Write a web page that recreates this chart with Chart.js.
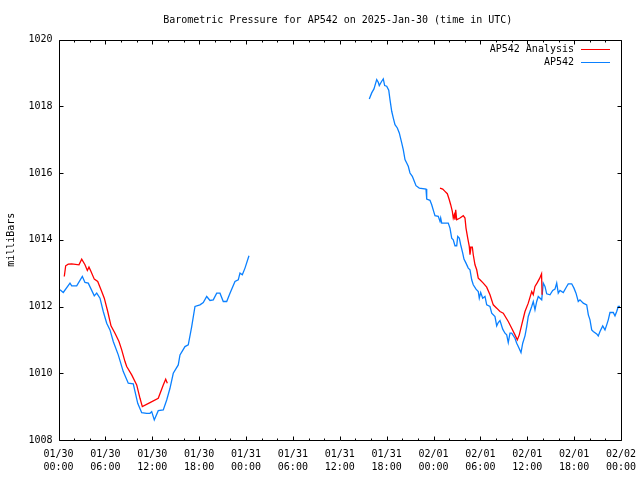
<!DOCTYPE html>
<html>
<head>
<meta charset="utf-8">
<script src="https://cdn.jsdelivr.net/npm/chart.js@4"></script>
<style>
html,body{margin:0;padding:0;background:#fff;}
#wrap{width:640px;height:480px;}
</style>
</head>
<body>
<div id="wrap"><canvas id="c" width="640" height="480"></canvas></div>
<script>
// ---- data (hours since 2025-01-30 00:00 UTC, millibars) ----
const titleText = "Barometric Pressure for AP542 on 2025-Jan-30 (time in UTC)";
const yAxisTitle = "milliBars";
const seriesNames = ["AP542 Analysis", "AP542"];
const xTickLabels = [
  ["01/30","00:00"],["01/30","06:00"],["01/30","12:00"],["01/30","18:00"],
  ["01/31","00:00"],["01/31","06:00"],["01/31","12:00"],["01/31","18:00"],
  ["02/01","00:00"],["02/01","06:00"],["02/01","12:00"],["02/01","18:00"],
  ["02/02","00:00"]
];
const yTickValues = [1008,1010,1012,1014,1016,1018,1020];

const obsHours = [
  0.19,0.61,1.47,1.69,2.33,3.05,3.39,3.81,4.58,4.89,5.31,5.73,6.17,6.59,7.01,7.65,8.29,8.93,9.57,10.14,
  10.65,11.29,11.71,11.93,12.26,12.77,13.41,13.85,14.27,14.69,15.33,15.55,16.19,16.61,17.05,17.47,18.11,
  18.53,18.97,19.39,19.81,20.25,20.67,21.09,21.53,21.95,22.59,23.01,23.23,23.53,23.87,24.38,
  32.0,
  39.78,40.09,40.38,40.73,40.93,41.06,41.37,41.57,41.75,42.01,42.27,42.43,42.65,42.85,43.07,43.37,43.62,
  43.93,44.13,44.35,44.57,44.77,44.99,45.29,45.54,45.76,46.18,47.04,47.13,47.55,47.77,48.06,48.19,48.61,
  48.83,48.92,49.05,49.89,50.11,50.33,50.53,50.75,50.97,51.10,51.30,51.48,51.74,51.90,52.16,52.45,52.67,
  52.89,53.09,53.44,53.73,53.86,54.04,54.30,54.59,54.81,55.23,55.45,55.87,56.09,56.29,56.51,56.86,57.15,
  57.37,57.57,57.79,58.01,58.43,58.65,58.85,59.20,59.42,59.71,59.93,60.13,60.35,60.57,60.77,60.99,61.21,
  61.41,61.85,62.05,62.27,62.49,62.91,63.26,63.55,63.77,63.97,64.19,64.61,65.05,65.25,65.69,65.98,66.24,
  66.53,66.75,67.17,67.61,67.82,68.03,68.25,68.45,68.89,69.09,69.31,69.66,69.95,70.17,70.37,70.59,71.01,
  71.23,71.45,71.65,71.87
];
const obsValues = [
  1012.5,1012.42,1012.7,1012.62,1012.62,1012.9,1012.72,1012.7,1012.32,1012.4,1012.25,1011.85,1011.5,1011.3,
  1010.95,1010.55,1010.05,1009.7,1009.68,1009.1,1008.82,1008.8,1008.8,1008.85,1008.6,1008.88,1008.9,1009.2,
  1009.55,1010.0,1010.25,1010.55,1010.8,1010.85,1011.4,1012.0,1012.05,1012.12,1012.3,1012.18,1012.2,1012.4,
  1012.4,1012.15,1012.15,1012.4,1012.75,1012.8,1013.0,1012.95,1013.15,1013.52,
  null,
  1018.22,1018.4,1018.52,1018.8,1018.72,1018.62,1018.75,1018.82,1018.62,1018.6,1018.48,1018.2,1017.85,
  1017.65,1017.45,1017.35,1017.2,1016.9,1016.7,1016.4,1016.3,1016.2,1016.0,1015.9,1015.75,1015.62,1015.55,
  1015.52,1015.22,1015.18,1015.05,1014.82,1014.72,1014.7,1014.55,1014.65,1014.5,1014.5,1014.35,1014.05,
  1014.0,1013.82,1013.82,1014.1,1014.05,1013.85,1013.6,1013.42,1013.3,1013.15,1013.1,1012.8,1012.65,
  1012.52,1012.45,1012.25,1012.42,1012.25,1012.3,1012.05,1012.0,1011.8,1011.7,1011.42,1011.52,1011.58,
  1011.32,1011.2,1011.15,1010.92,1011.2,1011.2,1011.05,1010.9,1010.8,1010.62,1010.9,1011.12,1011.4,
  1011.7,1011.85,1012.0,1012.15,1011.9,1012.15,1012.3,1012.2,1012.7,1012.6,1012.38,1012.35,1012.48,
  1012.52,1012.7,1012.4,1012.48,1012.42,1012.6,1012.68,1012.68,1012.55,1012.4,1012.15,1012.2,1012.1,
  1012.05,1011.75,1011.6,1011.3,1011.25,1011.18,1011.12,1011.25,1011.42,1011.3,1011.45,1011.6,1011.82,
  1011.82,1011.72,1011.85,1012.0,1012.0
];

const anaHours = [
  0.74,0.92,1.25,1.69,2.62,2.97,3.39,3.69,3.90,4.16,4.58,5.02,5.53,5.86,6.30,6.72,7.23,7.74,8.09,8.51,
  8.73,9.37,10.01,10.43,10.73,11.71,12.77,13.41,13.72,13.93,
  30.0,
  48.83,49.18,49.47,49.77,50.02,50.20,50.41,50.53,50.66,50.75,50.84,50.97,51.39,51.81,52.03,52.16,52.38,
  52.58,52.67,52.80,52.97,53.09,53.31,53.53,53.73,53.95,54.37,54.81,55.23,55.65,56.09,56.51,56.93,57.57,
  58.01,58.43,58.73,58.98,59.29,59.71,60.13,60.57,60.77,60.99,61.25,61.60,61.83,61.90
];
const anaValues = [
  1012.9,1013.22,1013.27,1013.28,1013.25,1013.42,1013.25,1013.08,1013.18,1013.05,1012.82,1012.75,1012.45,
  1012.25,1011.85,1011.42,1011.2,1010.95,1010.7,1010.35,1010.2,1009.95,1009.65,1009.25,1009.0,1009.12,
  1009.25,1009.65,1009.82,1009.7,
  null,
  1015.55,1015.52,1015.45,1015.38,1015.2,1015.05,1014.85,1014.65,1014.75,1014.6,1014.9,1014.6,1014.65,
  1014.72,1014.65,1014.35,1014.05,1013.8,1013.55,1013.78,1013.78,1013.55,1013.25,1013.1,1012.85,1012.8,
  1012.7,1012.58,1012.35,1012.05,1011.95,1011.85,1011.8,1011.55,1011.35,1011.15,1011.0,1011.15,1011.45,
  1011.85,1012.1,1012.45,1012.35,1012.6,1012.7,1012.85,1012.98,1012.35
];

// ---- styles ----
const FONT = "'DejaVu Sans Mono', 'Liberation Mono', monospace";
const RED = "#ff0000";
const BLUE = "#0a80ff";

function toPoints(xs, ys){ return xs.map((x,i)=>({x:x, y:ys[i]})); }

const framePlugin = {
  id: 'frame',
  afterDraw(chart){
    const ctx = chart.ctx, a = chart.chartArea;
    const xs = chart.scales.x, ys = chart.scales.y;
    ctx.save();
    ctx.strokeStyle = '#000';
    ctx.lineWidth = 1;
    const L = Math.round(a.left)+0.5, R = Math.round(a.right)+0.5;
    const T = Math.round(a.top)+0.5, B = Math.round(a.bottom)+0.5;
    ctx.beginPath();
    ctx.rect(L, T, R-L, B-T);
    // x ticks every 2 hours (major every 6)
    for (let h = xs.min; h <= xs.max; h += 2) {
      const px = Math.round(xs.getPixelForValue(h)) + 0.5;
      const len = (h % 6 === 0) ? 4 : 2;
      ctx.moveTo(px, B); ctx.lineTo(px, B - len);
      ctx.moveTo(px, T); ctx.lineTo(px, T + len);
    }
    yTickValues.forEach(v => {
      const py = Math.round(ys.getPixelForValue(v)) + 0.5;
      ctx.moveTo(L, py); ctx.lineTo(L + 4, py);
      ctx.moveTo(R, py); ctx.lineTo(R - 4, py);
    });
    ctx.stroke();

    // title
    ctx.fillStyle = '#000';
    ctx.font = "10px " + FONT;
    ctx.textAlign = 'center';
    ctx.textBaseline = 'middle';
    ctx.fillText(titleText, (a.left + a.right)/2 - 2, 20);

    // legend (top-right, inside plot)
    ctx.textAlign = 'right';
    chart.data.datasets.forEach((ds, i) => {
      const y = 49 + i * 13;
      const lineR = a.right - 11, lineL = lineR - 29;
      ctx.fillStyle = '#000';
      ctx.fillText(ds.label, lineL - 7, y);
      ctx.strokeStyle = ds.borderColor;
      ctx.beginPath();
      ctx.moveTo(lineL, Math.round(y)+0.5); ctx.lineTo(lineR, Math.round(y)+0.5);
      ctx.stroke();
    });
    ctx.restore();
  }
};

new Chart(document.getElementById('c'), {
  type: 'line',
  data: {
    datasets: [
      { label: seriesNames[0], data: toPoints(anaHours, anaValues), borderColor: RED,
        borderWidth: 1.3, pointRadius: 0, tension: 0, spanGaps: false, fill: false },
      { label: seriesNames[1], data: toPoints(obsHours, obsValues), borderColor: BLUE,
        borderWidth: 1.3, pointRadius: 0, tension: 0, spanGaps: false, fill: false }
    ]
  },
  options: {
    responsive: false,
    animation: false,
    events: [],
    layout: { padding: { top: 39.5, right: 19, left: 0, bottom: 0 } },
    plugins: { legend: { display: false }, tooltip: { enabled: false }, title: { display: false } },
    scales: {
      x: {
        type: 'linear', min: 0, max: 72,
        grid: { display: false, drawTicks: false },
        border: { display: false },
        afterFit(s){ s.height = 40; s.paddingLeft = 0; s.paddingRight = 0; },
        afterBuildTicks(s){ s.ticks = xTickLabels.map((_, i) => ({ value: i * 6 })); },
        ticks: {
          autoSkip: false, maxRotation: 0, padding: 8, color: '#000',
          font: { family: FONT, size: 10, lineHeight: 1.3 },
          callback(v, i){ return xTickLabels[i]; }
        }
      },
      y: {
        type: 'linear', min: 1008, max: 1020,
        grid: { display: false, drawTicks: false },
        border: { display: false },
        afterFit(s){ s.width = 58.5; s.paddingTop = 0; s.paddingBottom = 0; },
        afterBuildTicks(s){ s.ticks = yTickValues.map(v => ({ value: v })); },
        ticks: {
          padding: 6, color: '#000',
          font: { family: FONT, size: 10 },
          callback(v){ return String(v); }
        },
        title: { display: true, text: yAxisTitle, color: '#000',
          font: { family: FONT, size: 10 }, padding: { top: 5, bottom: 0 } }
      }
    }
  },
  plugins: [framePlugin]
});
</script>
</body>
</html>
